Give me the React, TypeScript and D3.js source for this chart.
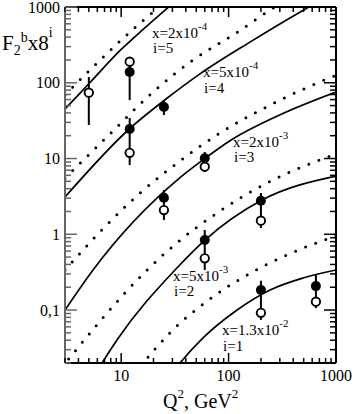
import React from "react";
import * as d3 from "d3";

const W = 356;
const H = 414;
const PL = 65, PR = 336, PT = 7, PB = 363;

const xDomain: [number, number] = [3, 1000];
const yDomain: [number, number] = [0.02, 1000];

const xTickValues = [10, 100, 1000];
const xTickLabels = ["10", "100", "1000"];
const yTickValues = [0.1, 1, 10, 100, 1000];
const yTickLabels = ["0,1", "1", "10", "100", "1000"];

// solid theory curves  [Q2, F2b * 8^i]
const solid_i5 = [[3, 45], [5, 97], [10, 275], [16, 506], [25, 883], [40, 1550]];
const solid_i4 = [[3, 3.1], [12.1, 25.1], [25.6, 59.6], [54.2, 131], [158, 344], [515, 935], [1000, 1585]];
const solid_i3 = [[3, 0.1], [5.47, 0.338], [35.3, 5.6], [60, 10], [103, 17.2], [316, 39], [1000, 75.5]];
const solid_i2 = [[5, 0.0102], [6.64, 0.02], [9.14, 0.0403], [31.7, 0.338], [60.3, 0.84], [205, 2.83], [1000, 5.85]];
const solid_i1 = [[25, 0.0107], [35.3, 0.02], [57.8, 0.0428], [120, 0.1], [243, 0.184], [493, 0.265], [1000, 0.338]];

// dotted theory curves
const dotted_i5 = [[3, 69], [5.96, 182], [9.55, 345], [19.8, 859], [35, 1700]];
const dotted_i4 = [[3, 5.5], [8.2, 22.4], [19.8, 75.5], [46.7, 200], [110, 427], [270, 1000], [600, 1900]];
const dotted_i3 = [[3, 0.338], [6.6, 1.14], [15, 3.5], [35.3, 9.3], [83, 21.7], [243, 50.8], [1000, 126]];
const dotted_i2 = [[2.8, 0.0175], [3.07, 0.0205], [6.5, 0.074], [16.3, 0.308], [33, 0.77], [78, 1.91], [228, 4.75], [1000, 11.5]];
const dotted_i1 = [[10, 0.0085], [16.3, 0.0205], [28.5, 0.0502], [67, 0.14], [166, 0.317], [350, 0.535], [1000, 0.953]];

// filled data points
const filledQ2 = [12, 12, 25, 25, 60, 60, 200, 200, 650];
const filledVal = [139, 24.5, 47.9, 3.04, 10.1, 0.84, 2.77, 0.184, 0.207];
const filledLo = [59, 8.2, 37.5, 1.54, 6.64, 0.338, 1.21, 0.074, 0.106];
const filledHi = [219, 34.3, 59.2, 3.84, 12.2, 1.14, 3.5, 0.244, 0.29];

// open data points
const openQ2 = [5, 12, 12, 25, 60, 60, 200, 200, 650];
const openVal = [74, 190, 11.9, 2.09, 7.8, 0.482, 1.51, 0.092, 0.129];
const openLo = [27.7, 190, 11.9, 2.09, 7.8, 0.482, 1.51, 0.092, 0.129];
const openHi = [119, 190, 11.9, 2.09, 7.8, 0.482, 1.51, 0.092, 0.129];

// curve labels
const labelX = ["2x10", "5x10", "2x10", "5x10", "1.3x10"];
const labelExp = ["-4", "-4", "-3", "-3", "-2"];
const labelI = ["5", "4", "3", "2", "1"];
const labelPos = [[152, 38, 53], [203, 77, 93], [233, 147, 162], [173, 281, 296], [222, 335, 351]];

const FONT = "'Liberation Serif', 'Times New Roman', serif";

export default function App() {
  const x = d3.scaleLog().domain(xDomain).range([PL, PR]);
  const y = d3.scaleLog().domain(yDomain).range([PB, PT]);
  const line = d3
    .line<number[]>()
    .x((d) => x(d[0]))
    .y((d) => y(d[1]))
    .curve(d3.curveMonotoneX);

  const solids = [solid_i5, solid_i4, solid_i3, solid_i2, solid_i1];
  const dotteds = [dotted_i5, dotted_i4, dotted_i3, dotted_i2, dotted_i1];

  // minor ticks
  const xMinor: number[] = [];
  for (const base of [1, 10, 100]) for (let k = 2; k <= 9; k++) {
    const v = base * k;
    if (v >= xDomain[0] && v <= xDomain[1] && base * k !== 10 && base * k !== 100) xMinor.push(v);
  }
  const yMinor: number[] = [];
  for (const base of [0.01, 0.1, 1, 10, 100]) for (let k = 2; k <= 9; k++) {
    const v = base * k;
    if (v >= yDomain[0] && v <= yDomain[1]) yMinor.push(v);
  }
  const leftCol = "#666";

  return (
    <svg width={W} height={H} style={{ position: "absolute", left: 0, top: 0, background: "#fff" }} fontFamily={FONT}>
      <defs>
        <clipPath id="plotclip">
          <rect x={PL} y={PT} width={PR - PL} height={PB - PT} />
        </clipPath>
      </defs>
      <rect x={0} y={0} width={W} height={H} fill="#fff" />
      <g clipPath="url(#plotclip)">
        {dotteds.map((d, i) => (
          <path key={"d" + i} d={line(d) || ""} fill="none" stroke="#000" strokeWidth={3} strokeLinecap="round" strokeDasharray="0 10.8" />
        ))}
        {solids.map((d, i) => (
          <path key={"s" + i} d={line(d) || ""} fill="none" stroke="#000" strokeWidth={1.7} />
        ))}
      </g>
      {/* error bars */}
      {filledQ2.map((q, i) => (
        <line key={"fb" + i} x1={x(q)} x2={x(q)} y1={y(filledLo[i])} y2={y(filledHi[i])} stroke="#000" strokeWidth={2} />
      ))}
      {openQ2.map((q, i) => (
        <line key={"ob" + i} x1={x(q)} x2={x(q)} y1={y(openLo[i])} y2={y(openHi[i])} stroke="#000" strokeWidth={2} />
      ))}
      {openQ2.map((q, i) => (
        <circle key={"o" + i} cx={x(q)} cy={y(openVal[i])} r={4.2} fill="#fff" stroke="#000" strokeWidth={1.9} />
      ))}
      {filledQ2.map((q, i) => (
        <circle key={"f" + i} cx={x(q)} cy={y(filledVal[i])} r={5} fill="#000" />
      ))}

      {/* frame */}
      <line x1={PL} x2={PR} y1={PB} y2={PB} stroke="#000" strokeWidth={2} />
      <line x1={PL} x2={PR} y1={PT} y2={PT} stroke="#000" strokeWidth={2} />
      <line x1={PR} x2={PR} y1={PT} y2={PB} stroke="#000" strokeWidth={2} />
      <line x1={PL} x2={PL} y1={PT} y2={PB} stroke={leftCol} strokeWidth={2} />

      {/* x ticks */}
      {xTickValues.map((v) => (
        <g key={"xt" + v}>
          <line x1={x(v)} x2={x(v)} y1={PB} y2={PB - 10} stroke="#000" strokeWidth={1.5} />
          <line x1={x(v)} x2={x(v)} y1={PT} y2={PT + 10} stroke="#000" strokeWidth={1.5} />
        </g>
      ))}
      {xMinor.map((v) => (
        <g key={"xm" + v}>
          <line x1={x(v)} x2={x(v)} y1={PB} y2={PB - 5} stroke="#000" strokeWidth={1.5} />
          <line x1={x(v)} x2={x(v)} y1={PT} y2={PT + 5} stroke="#000" strokeWidth={1.5} />
        </g>
      ))}
      {xTickValues.map((v, i) => (
        <text key={"xl" + v} x={x(v)} y={381} fontSize={16} textAnchor="middle">{xTickLabels[i]}</text>
      ))}

      {/* y ticks */}
      {yTickValues.map((v) => (
        <g key={"yt" + v}>
          <line x1={PL} x2={PL + 12} y1={y(v)} y2={y(v)} stroke={leftCol} strokeWidth={1.5} />
          <line x1={PR} x2={PR - 12} y1={y(v)} y2={y(v)} stroke="#000" strokeWidth={1.5} />
        </g>
      ))}
      {yMinor.map((v) => (
        <g key={"ym" + v}>
          <line x1={PL} x2={PL + 6} y1={y(v)} y2={y(v)} stroke={leftCol} strokeWidth={1.5} />
          <line x1={PR} x2={PR - 6} y1={y(v)} y2={y(v)} stroke="#000" strokeWidth={1.5} />
        </g>
      ))}
      {yTickValues.map((v, i) => (
        <text key={"yl" + v} x={60} y={y(v) + 5.5} fontSize={16} textAnchor="end">{yTickLabels[i]}</text>
      ))}

      {/* curve labels */}
      {labelPos.map((p, i) => (
        <g key={"lab" + i}>
          <text x={p[0]} y={p[1]} fontSize={15}>
            {"x=" + labelX[i]}
            <tspan dy={-8} fontSize={11}>{labelExp[i]}</tspan>
          </text>
          <text x={p[0] + 1} y={p[2]} fontSize={15}>{"i=" + labelI[i]}</text>
        </g>
      ))}

      {/* axis titles */}
      <text x={2} y={50} fontSize={21}>
        F
        <tspan fontSize={14} dy={5}>2</tspan>
        <tspan fontSize={14} dy={-13}>b</tspan>
        <tspan fontSize={21} dy={8}>x8</tspan>
        <tspan fontSize={14} dy={-13}>i</tspan>
      </text>
      <text x={163} y={408} fontSize={20}>
        Q
        <tspan fontSize={13} dy={-10}>2</tspan>
        <tspan fontSize={20} dy={10}>, GeV</tspan>
        <tspan fontSize={13} dy={-10}>2</tspan>
      </text>
    </svg>
  );
}
